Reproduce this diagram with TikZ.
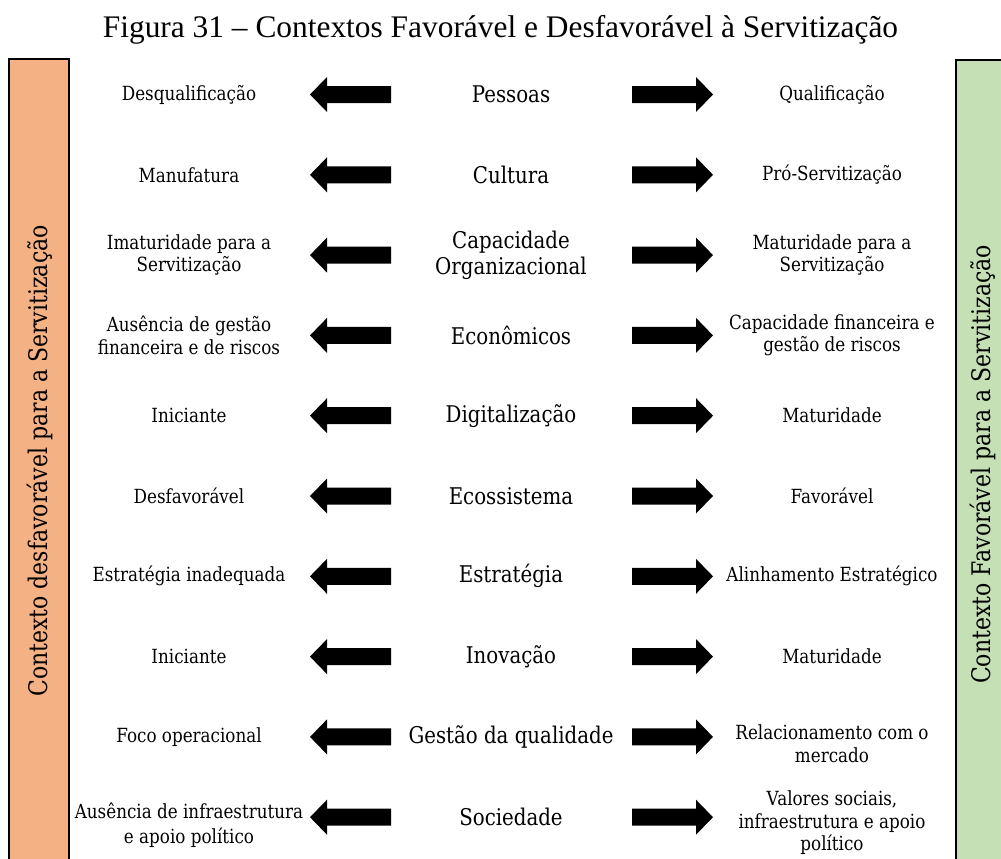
\documentclass[tikz,border=0pt]{standalone}
\usepackage{fontspec}
\setmainfont{DejaVu Serif}[FakeStretch=0.86]
\newfontfamily\titlefont{Liberation Serif}
\definecolor{unfavfill}{HTML}{F4B183}
\definecolor{favfill}{HTML}{C5E0B4}
\tikzset{
  heading/.style={font=\titlefont\fontsize{31.4}{34}\selectfont, inner sep=0pt},
  sidebar/.style={draw=black, line width=1.4pt},
  sidetext/.style={rotate=90, font=\fontsize{25.6}{28}\selectfont, inner sep=0pt},
  pole/.style={align=center, font=\fontsize{19.5}{22.5}\selectfont, inner sep=0pt},
  factor/.style={align=center, font=\fontsize{23}{26}\selectfont, inner sep=0pt},
  blockarrow/.style={fill=black}
}
\begin{document}
\begin{tikzpicture}[x=1pt,y=-1pt]
\useasboundingbox (0,0) rectangle (1001,859);
\clip (0,0) rectangle (1001,859);

\node[heading] (title) at (500.5,30) {Figura 31 – Contextos Favorável e Desfavorável à Servitização};

% side bars
\draw[sidebar, fill=unfavfill] (9,59) rectangle (69,880);
\draw[sidebar, fill=favfill] (956,60) rectangle (1020,880);
\node[sidetext] (unfav) at (40,461) {Contexto desfavorável para a Servitização};
\node[sidetext] (fav) at (983,464.5) {Contexto Favorável para a Servitização};

% rows: index / left pole / factor / right pole
\foreach \i/\lt/\ct/\rt in {
  0/Desqualificação/Pessoas/Qualificação,
  1/Manufatura/Cultura/Pró-Servitização,
  2/{Imaturidade para a\\Servitização}/{Capacidade\\Organizacional}/{Maturidade para a\\Servitização},
  3/{Ausência de gestão\\financeira e de riscos}/Econômicos/{Capacidade financeira e\\gestão de riscos},
  4/Iniciante/Digitalização/Maturidade,
  5/Desfavorável/Ecossistema/Favorável,
  6/Estratégia inadequada/Estratégia/Alinhamento Estratégico,
  7/Iniciante/Inovação/Maturidade}
{
  \pgfmathsetmacro{\y}{94.5+80.3*\i}
  \node[pole] (L\i) at (189,\y) {\lt};
  \node[factor] (C\i) at (511,\y) {\ct};
  \node[pole] (R\i) at (832,\y) {\rt};
  \fill[blockarrow] (310,\y) -- (327,\y-17.5) -- (327,\y-8.5) -- (391,\y-8.5)
    -- (391,\y+8.5) -- (327,\y+8.5) -- (327,\y+17.5) -- cycle;
  \fill[blockarrow] (713,\y) -- (696,\y-17.5) -- (696,\y-8.5) -- (632,\y-8.5)
    -- (632,\y+8.5) -- (696,\y+8.5) -- (696,\y+17.5) -- cycle;
}

% last two rows, whose texts sit a little lower
\foreach \i/\lt/\ct/\rt/\ly/\ry/\lsk in {
  8/Foco operacional/Gestão da qualidade/{Relacionamento com o\\mercado}/737/743.5/22.5,
  9/{Ausência de infraestrutura\\e apoio político}/Sociedade/{Valores sociais,\\infraestrutura e apoio\\político}/825.5/823/25}
{
  \pgfmathsetmacro{\y}{94.5+80.3*\i}
  \node[pole, font=\fontsize{19.5}{\lsk}\selectfont] (L\i) at (189,\ly) {\lt};
  \node[factor] (C\i) at (511,\y) {\ct};
  \node[pole] (R\i) at (832,\ry) {\rt};
  \fill[blockarrow] (310,\y) -- (327,\y-17.5) -- (327,\y-8.5) -- (391,\y-8.5)
    -- (391,\y+8.5) -- (327,\y+8.5) -- (327,\y+17.5) -- cycle;
  \fill[blockarrow] (713,\y) -- (696,\y-17.5) -- (696,\y-8.5) -- (632,\y-8.5)
    -- (632,\y+8.5) -- (696,\y+8.5) -- (696,\y+17.5) -- cycle;
}
\end{tikzpicture}
\end{document}
